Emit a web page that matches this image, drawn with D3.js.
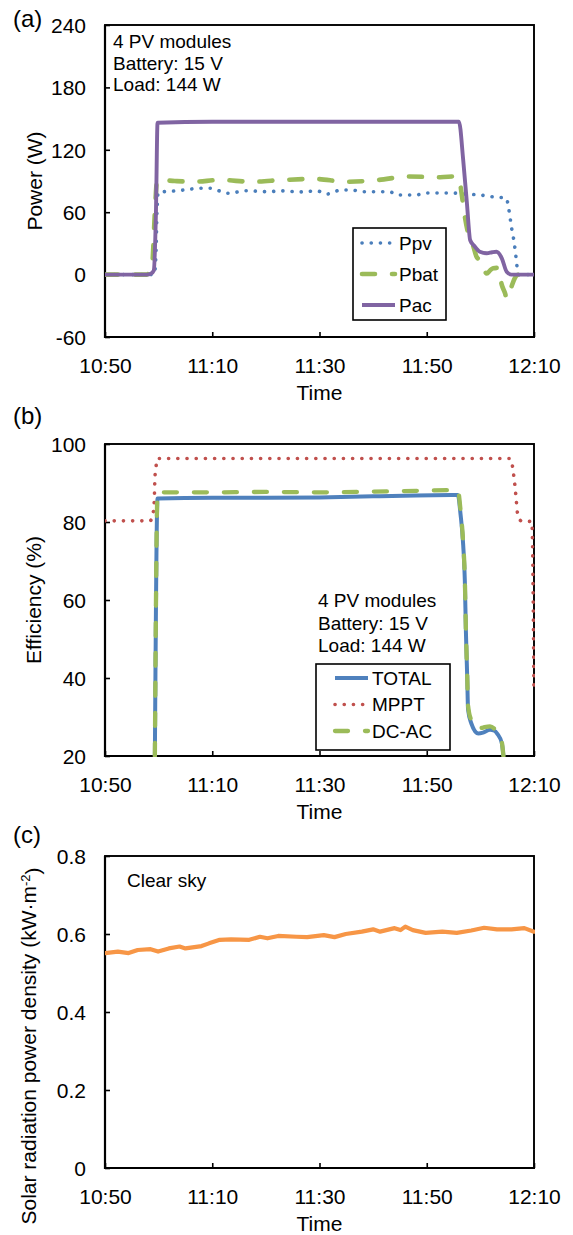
<!DOCTYPE html>
<html><head><meta charset="utf-8">
<script src="https://cdn.jsdelivr.net/npm/d3@7"></script>
<style>
body{margin:0;background:#fff}
svg{display:block}
text{font-family:"Liberation Sans",Arial,sans-serif;fill:#000}
</style>
</head><body>
<svg id="chart" width="573" height="1235"></svg>
<script>
// Time is expressed in minutes after 10:50
const timeTicks = [0, 20, 40, 60, 80];
const timeLabels = ["10:50", "11:10", "11:30", "11:50", "12:10"];

const powerTicks = [-60, 0, 60, 120, 180, 240];
const powerLabels = ["-60", "0", "60", "120", "180", "240"];
const effTicks = [20, 40, 60, 80, 100];
const effLabels = ["20", "40", "60", "80", "100"];
const solarTicks = [0, 0.2, 0.4, 0.6, 0.8];
const solarLabels = ["0", "0.2", "0.4", "0.6", "0.8"];

// (a) Power
const ppvT = [0,9.2,9.5,9.7,9.9,10.1,12,14.6,17.7,19.6,21,23,26.4,30.2,33,36.4,39.5,41.4,44,46,48,53,54.6,58,59.7,65,68,70,72,74.9,75.2,75.5,75.7,76.0,76.3,76.5,76.7,76.9,77.2,80];
const ppvV = [0,0,20,60,79,79.4,80,81.3,83,83,81,78.2,80.7,79.7,80.5,79.5,80.5,77.5,81.3,81.3,79.7,79.7,76.5,76.5,78.4,78.4,77.2,76.5,75,73.4,65,57,48.6,40,31,23,14,5,0,0];

const pbatT = [0,7.8,8.3,8.8,9.3,9.7,10.1,13,16.5,21.5,27.3,33.3,39,45,51,56.5,62.5,65.5,66.2,66.5,67.1,67.7,68.7,69.3,69.9,70.5,71.2,71.8,72.4,73.3,74,74.6,74.9,75.8,76.4,77.1,80];
const pbatV = [0,0,3,10,60,90,91,90,89.3,91,89.3,91,92,89.3,91,94.3,93.6,94.5,88,78,56,40,27,17,14,7,1,4,6,6.5,-10,-18,-23,-11.6,-3.6,0,0];

const pacT = [0,7.8,8.6,9.1,9.5,9.8,20,40,66,66.8,67.5,68.1,68.8,69.9,71.2,72.2,73,74,74.9,75.8,80];
const pacV = [0,0,1,4,60,146,147,147,147,110,68,33,28,22,20.5,21.5,22,15.7,2.8,0,0];

// (b) Efficiency
const totalT = [9.3,9.8,20,30,40,50,58,65.8,66.3,66.8,67.1,67.3,67.55,67.7,68.3,69.6,70.5,71.8,72.6,73.2,74,74.3];
const totalV = [20,86,86.2,86.2,86.3,86.6,86.8,86.9,82,74,65,52,40,32,28.4,25.8,26,26.7,26.5,25.6,23.3,20];

const mpptT = [0,8.4,9.0,9.2,9.3,9.5,9.8,30,60,75.5,76.1,76.3,76.5,76.7,76.9,77.6,79.6,80];
const mpptV = [80.3,80.3,82.5,86,91,94,96.3,96.3,96.3,96.3,93.3,91,88.6,85.5,82.5,80.3,80.1,36];

const dcacT = [9.3,9.8,20,30,40,50,58,65.8,66.3,66.8,67.1,67.3,67.55,67.7,68.3,69.6,70.5,71.8,72.6,73.2,74,74.3];
const dcacV = [20,87.6,87.6,87.7,87.6,87.8,88,88.2,83,74.5,65.5,52.5,40.5,33,29.2,27,27.3,27.6,27,26,23.5,20];

// (c) Solar radiation
const solarT = [0,2.4,4.4,6.1,8.5,9.9,11.9,13.9,15,18,19.4,21.4,23.5,26.9,28.9,30.3,32.3,35.7,37.7,40.8,42.8,44.9,47.9,50,51.3,54,55.1,56,57.4,59.8,62.9,65.6,68.3,70.7,73.1,75.8,78.2,80];
const solarV = [0.551,0.555,0.551,0.559,0.561,0.555,0.563,0.568,0.563,0.569,0.576,0.585,0.586,0.585,0.593,0.589,0.595,0.593,0.592,0.597,0.592,0.600,0.606,0.612,0.606,0.615,0.610,0.619,0.610,0.603,0.606,0.603,0.609,0.616,0.612,0.612,0.615,0.606];

const svg = d3.select("#chart");
const L = 105, R = 534;
const x = d3.scaleLinear().domain([0, 80]).range([L, R]);
const zip = (t, v) => t.map((d, i) => [d, v[i]]);

const styles = {
  ppv:   {stroke:"#4A7EBB", width:3.6, dash:"0.1 9.1", cap:"round"},
  pbat:  {stroke:"#9BBB59", width:4.6, dash:"13 17", cap:"round"},
  pac:   {stroke:"#8064A2", width:3.9, dash:null, cap:"butt"},
  total: {stroke:"#4F81BD", width:4, dash:null, cap:"butt"},
  mppt:  {stroke:"#C0504D", width:3.6, dash:"0.1 9.1", cap:"round"},
  dcac:  {stroke:"#9BBB59", width:4.3, dash:"13 17", cap:"round"},
  solar: {stroke:"#F79646", width:4.2, dash:null, cap:"round"}
};

function panel(p) {
  const y = d3.scaleLinear().domain(p.domain).range([p.bottom, p.top]);
  const g = svg.append("g");
  const cid = "clip" + p.id;
  svg.append("clipPath").attr("id", cid).append("rect")
    .attr("x", L).attr("y", p.top - 1).attr("width", R - L + 1).attr("height", p.bottom - p.top + 2);

  // frame
  g.append("rect").attr("x", L).attr("y", p.top).attr("width", R - L).attr("height", p.bottom - p.top)
    .attr("fill", "none").attr("stroke", "#000").attr("stroke-width", 1.9);
  g.append("line").attr("x1", L).attr("x2", L).attr("y1", p.top).attr("y2", p.bottom + 1)
    .attr("stroke", "#000").attr("stroke-width", 2.2);
  g.append("line").attr("x1", L - 1).attr("x2", R + 1).attr("y1", p.bottom).attr("y2", p.bottom)
    .attr("stroke", "#000").attr("stroke-width", 2.2);

  // y axis
  const ya = g.append("g").attr("transform", `translate(${L},0)`)
    .call(d3.axisLeft(y).tickValues(p.ticks).tickSizeInner(-5).tickSizeOuter(0).tickPadding(19)
      .tickFormat((d, i) => p.labels[i]));
  ya.select(".domain").remove();
  ya.selectAll("line").attr("stroke", "#000").attr("stroke-width", 1.6);
  ya.selectAll("text").attr("font-size", 21).attr("font-family", "Liberation Sans, Arial, sans-serif")
    .attr("dy", "0.35em").attr("fill", "#000");
  ya.attr("font-family", null).attr("font-size", null);

  // x axis
  const xa = g.append("g").attr("transform", `translate(0,${p.bottom})`)
    .call(d3.axisBottom(x).tickValues(timeTicks).tickSizeInner(-5).tickSizeOuter(0)
      .tickFormat((d, i) => timeLabels[i]));
  xa.select(".domain").remove();
  xa.selectAll("line").attr("stroke", "#000").attr("stroke-width", 1.6);
  xa.selectAll("text").attr("font-size", 21).attr("font-family", "Liberation Sans, Arial, sans-serif")
    .attr("dy", null).attr("y", 36).attr("fill", "#000");
  xa.attr("font-family", null).attr("font-size", null);

  g.append("text").attr("x", (L + R) / 2).attr("y", p.bottom + 63).attr("text-anchor", "middle")
    .attr("font-size", 21).text("Time");

  // series
  const lg = g.append("g").attr("clip-path", `url(#${cid})`);
  p.series.forEach(s => {
    const st = styles[s.key];
    const line = d3.line().x(d => x(d[0])).y(d => y(d[1])).curve(s.curve || d3.curveMonotoneX);
    lg.append("path").datum(zip(s.t, s.v)).attr("d", line)
      .attr("fill", "none").attr("stroke", st.stroke).attr("stroke-width", st.width)
      .attr("stroke-dasharray", st.dash).attr("stroke-linecap", st.cap).attr("stroke-linejoin", "round");
  });

  // panel letter
  g.append("text").attr("x", 13).attr("y", p.letterY).attr("font-size", 24).text(p.letter);
  return {g, y};
}

function legend(g, box, items) {
  g.append("rect").attr("x", box.x).attr("y", box.y).attr("width", box.w).attr("height", box.h)
    .attr("fill", "#fff").attr("stroke", "#000").attr("stroke-width", 1.6);
  items.forEach((it, i) => {
    const st = styles[it.key];
    const yy = box.y0 + i * box.dy;
    g.append("line").attr("x1", box.lx1).attr("x2", box.lx2).attr("y1", yy).attr("y2", yy)
      .attr("stroke", st.stroke).attr("stroke-width", st.width).attr("stroke-dasharray", st.dash)
      .attr("stroke-linecap", st.cap);
    g.append("text").attr("x", box.tx).attr("y", yy).attr("dy", "0.35em").attr("font-size", 19).text(it.name);
  });
}

function notes(g, x0, y0, dy, lines) {
  lines.forEach((t, i) => g.append("text").attr("x", x0).attr("y", y0 + i * dy).attr("font-size", 19).text(t));
}

// Panel (a)
const A = panel({id:"a", top:25, bottom:337, domain:[-60, 240], ticks:powerTicks, labels:powerLabels,
  letter:"(a)", letterY:27,
  series:[{key:"ppv", t:ppvT, v:ppvV}, {key:"pbat", t:pbatT, v:pbatV}, {key:"pac", t:pacT, v:pacV}]});
A.g.append("text").attr("transform", `translate(42,181) rotate(-90)`).attr("text-anchor", "middle")
  .attr("font-size", 21).text("Power (W)");
notes(A.g, 113, 48, 21.5, ["4 PV modules", "Battery: 15 V", "Load: 144 W"]);
legend(A.g, {x:353, y:228, w:93, h:92, y0:243, dy:31, lx1:362, lx2:395, tx:399},
  [{key:"ppv", name:"Ppv"}, {key:"pbat", name:"Pbat"}, {key:"pac", name:"Pac"}]);

// Panel (b)
const B = panel({id:"b", top:444, bottom:756, domain:[20, 100], ticks:effTicks, labels:effLabels,
  letter:"(b)", letterY:424,
  series:[{key:"total", t:totalT, v:totalV}, {key:"mppt", t:mpptT, v:mpptV}, {key:"dcac", t:dcacT, v:dcacV}]});
B.g.append("text").attr("transform", `translate(41,600) rotate(-90)`).attr("text-anchor", "middle")
  .attr("font-size", 21).text("Efficiency (%)");
notes(B.g, 318, 607, 22.5, ["4 PV modules", "Battery: 15 V", "Load: 144 W"]);
legend(B.g, {x:316, y:664, w:134, h:86, y0:678, dy:26.5, lx1:335, lx2:368, tx:372},
  [{key:"total", name:"TOTAL"}, {key:"mppt", name:"MPPT"}, {key:"dcac", name:"DC-AC"}]);

// Panel (c)
const C = panel({id:"c", top:856, bottom:1168, domain:[0, 0.8], ticks:solarTicks, labels:solarLabels,
  letter:"(c)", letterY:843,
  series:[{key:"solar", t:solarT, v:solarV, curve:d3.curveLinear}]});
const ct = C.g.append("text").attr("transform", `translate(36,1046) rotate(-90)`).attr("text-anchor", "middle")
  .attr("font-size", 21);
ct.append("tspan").text("Solar radiation power density (kW·m");
ct.append("tspan").attr("dy", "-0.45em").attr("font-size", 13).text("-2");
ct.append("tspan").attr("dy", "0.45em").text(")");
C.g.append("text").attr("x", 127).attr("y", 887).attr("font-size", 19).text("Clear sky");
</script>
</body></html>
